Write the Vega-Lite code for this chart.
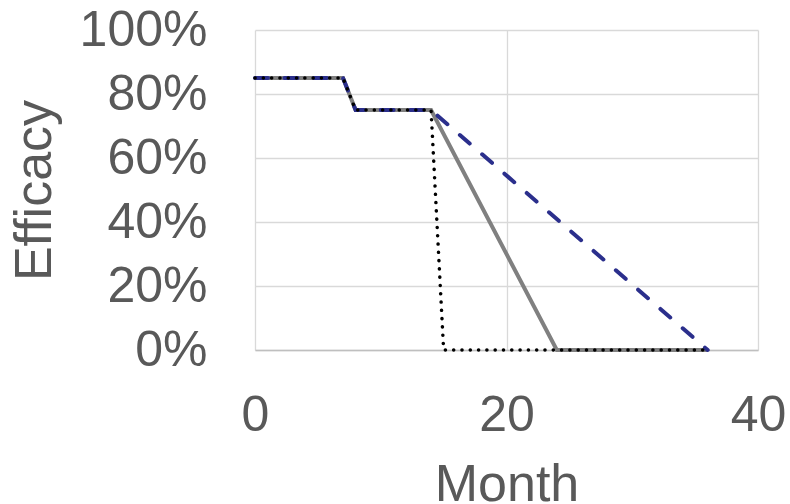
{
  "$schema": "https://vega.github.io/schema/vega-lite/v6.json",
  "autosize": "none",
  "width": 503,
  "height": 320,
  "padding": {"left": 255, "top": 30, "right": 32, "bottom": 154},
  "background": "white",
  "config": {
    "view": {"stroke": null},
    "font": "Liberation Sans",
    "axis": {
      "labelFont": "Liberation Sans",
      "titleFont": "Liberation Sans",
      "labelColor": "#595959",
      "titleColor": "#595959",
      "labelFontSize": 50,
      "titleFontSize": 52,
      "titleFontWeight": "normal",
      "gridColor": "#d9d9d9",
      "gridWidth": 1.3,
      "ticks": false
    }
  },
  "datasets": {
    "series": [
      {"line": "Gray", "month": 0, "efficacy": 0.85},
      {"line": "Gray", "month": 7, "efficacy": 0.85},
      {"line": "Gray", "month": 8, "efficacy": 0.75},
      {"line": "Gray", "month": 14, "efficacy": 0.75},
      {"line": "Gray", "month": 24, "efficacy": 0},
      {"line": "Gray", "month": 36, "efficacy": 0},
      {"line": "Dashed", "month": 0, "efficacy": 0.85},
      {"line": "Dashed", "month": 7, "efficacy": 0.85},
      {"line": "Dashed", "month": 8, "efficacy": 0.75},
      {"line": "Dashed", "month": 14, "efficacy": 0.75},
      {"line": "Dashed", "month": 36, "efficacy": 0},
      {"line": "Dotted", "month": 0, "efficacy": 0.85},
      {"line": "Dotted", "month": 7, "efficacy": 0.85},
      {"line": "Dotted", "month": 8, "efficacy": 0.75},
      {"line": "Dotted", "month": 14, "efficacy": 0.75},
      {"line": "Dotted", "month": 15, "efficacy": 0},
      {"line": "Dotted", "month": 36, "efficacy": 0}
    ]
  },
  "data": {"name": "series"},
  "encoding": {
    "x": {
      "field": "month", "type": "quantitative",
      "scale": {"domain": [0, 40], "nice": false},
      "axis": {"values": [0, 20, 40], "title": "Month", "labelPadding": 40, "titleY": 150, "titleBaseline": "alphabetic", "domainColor": "#bfbfbf", "domainWidth": 1.3, "labelFlush": false}
    },
    "y": {
      "field": "efficacy", "type": "quantitative",
      "scale": {"domain": [0, 1], "nice": false},
      "axis": {"values": [0, 0.2, 0.4, 0.6, 0.8, 1], "format": ".0%", "title": "Efficacy", "labelPadding": 48, "domain": false, "titleX": -205, "titleY": 160, "titleBaseline": "alphabetic", "titleAngle": -90, "titleAlign": "center"}
    }
  },
  "layer": [
    {
      "transform": [{"filter": "datum.line === 'Gray'"}],
      "mark": {"type": "line", "color": "#808080", "strokeWidth": 4}
    },
    {
      "transform": [{"filter": "datum.line === 'Dashed'"}],
      "mark": {"type": "line", "color": "#2b2f8c", "strokeWidth": 4, "strokeDash": [13, 16.5], "strokeCap": "round"}
    },
    {
      "transform": [{"filter": "datum.line === 'Dotted'"}],
      "mark": {"type": "line", "color": "#000000", "strokeWidth": 3.5, "strokeDash": [0.1, 8.2], "strokeCap": "round"}
    }
  ]
}
